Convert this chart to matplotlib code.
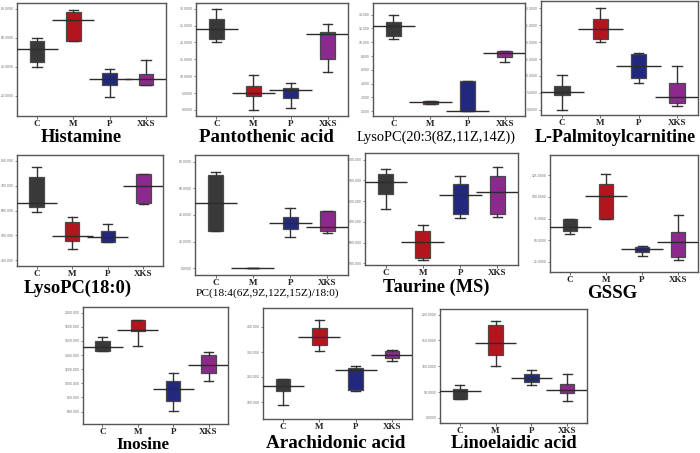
import matplotlib
matplotlib.use('Agg')
import matplotlib.pyplot as plt
from matplotlib.ticker import FormatStrFormatter

groups = ['C', 'M', 'P', 'XKS']
colors = ['#393939', '#b3151d', '#22287e', '#8b2a8c']

# per metabolite: whislo, q1, q3, whishi, mean for C, M, P, XKS
histamine = [(39.8, 43.4, 57.7, 59.8, 52.2), (57.7, 57.7, 77.5, 79.3, 72.4),
             (19.5, 27.6, 36.1, 38.4, 31.7), (27.4, 27.4, 35.2, 44.4, 31.7)]
pantothenic = [(20.2, 21.0, 26.9, 30.0, 23.9), (0.0, 4.2, 7.1, 10.4, 5.1),
               (0.5, 3.4, 6.4, 7.9, 5.9), (11.3, 15.0, 23.1, 25.6, 22.6)]
lysopc203 = [(10.46, 10.95, 12.93, 14.0, 12.4), (1.0, 1.0, 1.5, 1.5, 1.4),
             (0.0, 0.0, 4.4, 4.4, 0.0), (7.2, 7.85, 8.67, 8.67, 8.4)]
palmitoyl = [(0.0, 4.2, 7.0, 10.3, 5.1), (20.1, 21.0, 26.8, 30.0, 23.9),
             (7.8, 9.5, 16.4, 16.7, 12.9), (1.1, 1.9, 7.8, 13.0, 3.8)]
lysopc180 = [(596, 616, 737, 774, 629), (444, 479, 553, 576, 498),
             (474, 474, 517, 546, 495), (627, 629, 748, 748, 701)]
pc184 = [(28.0, 28.0, 70.0, 72.5, 48.75), (0, 0, 0, 0, 0),
         (23.25, 29.5, 38.25, 45.5, 33.75), (26.25, 28.25, 43.25, 43.25, 31.25)]
taurine = [(761, 834, 932, 955, 892), (516, 527, 658, 687, 602),
           (718, 737, 884, 923, 831), (723, 737, 919, 963, 844)]
gssg = [(57.7, 60.8, 74.6, 74.6, 65.4), (75.0, 75.0, 114.6, 125.8, 100.8),
        (32.3, 36.5, 42.3, 43.0, 40.0), (26.9, 30.8, 59.6, 78.5, 47.7)]
inosine = [(1459, 1459, 1600, 1656, 1520), (1529, 1736, 1892, 1892, 1750),
           (602, 744, 1026, 1148, 913), (1026, 1148, 1402, 1440, 1261)]
arachidonic = [(89, 143, 193, 193, 165), (305, 329, 396, 429, 359),
               (143, 149, 236, 243, 229), (265, 276, 303, 307, 289)]
linoelaidic = [(37.0, 37.0, 56.7, 64.5, 52.0), (100, 122, 180.5, 187, 144.6),
               (64.5, 70.3, 85.3, 92.5, 78.2), (32.6, 48.9, 66.4, 85.3, 53.4)]

# name, data, yticks, ylim, tick format, axes box in px (l, t, r, b), title x/y px, title size, bold
panels = [
    ('Histamine', histamine, [20, 40, 60, 80], (6.2, 83.9), '%.4f', (17, 3, 166, 116), (81, 137), 13.2, True),
    ('Pantothenic acid', pantothenic, [0, 5, 10, 15, 20, 25, 30], (-1.8, 31.7), '%.4f', (196, 3, 348, 116), (266, 137), 13.6, True),
    ('LysoPC(20:3(8Z,11Z,14Z))', lysopc203, [0, 2, 4, 6, 8, 10, 12, 14], (-0.7, 15.7), '%.3f', (373, 3, 525, 116), (436, 137), 10.4, False),
    ('L-Palmitoylcarnitine', palmitoyl, [0, 5, 10, 15, 20, 25, 30], (-1.6, 32.2), '%.4f', (541, 1, 698, 115), (615, 137), 13.0, True),
    ('LysoPC(18:0)', lysopc180, [400, 500, 600, 700, 800], (377, 824), '%.3f', (17, 155, 163, 266), (78, 288), 13.3, True),
    ('PC(18:4(6Z,9Z,12Z,15Z)/18:0)', pc184, [0, 20, 40, 60, 80], (-5, 85), '%.4f', (195, 155, 348, 275), (267, 293), 8.2, False),
    ('Taurine (MS)', taurine, [500, 600, 700, 800, 900, 1000], (492, 1032), '%.3f', (365, 153, 518, 265), (436, 287), 13.2, True),
    ('GSSG', gssg, [25, 50, 75, 100, 125], (13.5, 148), '%.4f', (550, 155, 698, 272), (612, 294), 13.6, True),
    ('Inosine', inosine, [600, 800, 1000, 1200, 1400, 1600, 1800, 2000], (423, 2080), '%.3f', (83, 307, 228, 424), (143, 445), 12.3, True),
    ('Arachidonic acid', arachidonic, [100, 200, 300, 400], (32, 476), '%.3f', (263, 308, 412, 419), (336, 443), 13.8, True),
    ('Linoelaidic acid', linoelaidic, [0, 50, 100, 150, 200], (-10, 211), '%.4f', (440, 309, 587, 423), (514, 443), 13.2, True),
]

W, H = 700, 453
fig = plt.figure(figsize=(W / 100, H / 100), dpi=100)
serif = ['Liberation Serif', 'DejaVu Serif']

for name, data, yt, yl, fmt, (l, t, r, b), (tx, ty), tsize, bold in panels:
    ax = fig.add_axes([l / W, 1 - b / H, (r - l) / W, (b - t) / H])
    stats = []
    for g, (lo, q1, q3, hi, mean) in zip(groups, data):
        stats.append({'label': g, 'whislo': lo, 'q1': q1, 'med': mean,
                      'q3': q3, 'whishi': hi, 'fliers': []})
    res = ax.bxp(stats, positions=[1, 2, 3, 4], widths=0.4, patch_artist=True,
                 showfliers=False, capwidths=0.25,
                 boxprops=dict(linewidth=0.9, edgecolor='#4a4a4a'),
                 whiskerprops=dict(color='#333333', linewidth=1.0),
                 capprops=dict(color='#333333', linewidth=1.0),
                 medianprops=dict(linewidth=0))
    for patch, c in zip(res['boxes'], colors):
        patch.set_facecolor(c)
    for i, (lo, q1, q3, hi, mean) in enumerate(data):
        ax.hlines(mean, i + 1 - 0.58, i + 1 + 0.58, color='#2b2b2b', linewidth=1.0, zorder=5)
    ax.set_xlim(0.45, 4.55)
    ax.set_ylim(*yl)
    ax.set_yticks(yt)
    ax.yaxis.set_major_formatter(FormatStrFormatter(fmt))
    ax.tick_params(axis='y', labelsize=2.2, length=1.5, width=0.5, pad=1,
                   colors='#555555', labelcolor='#666666')
    ax.tick_params(axis='x', length=2, width=0.6, pad=1.2, colors='#555555')
    ax.set_xticks([1, 2, 3, 4])
    ax.set_xticklabels(groups, family=serif, fontweight='bold', fontsize=6.5, color='#222222')
    for s in ax.spines.values():
        s.set_color('#555555')
        s.set_linewidth(1.0)
    fig.text(tx / W, 1 - ty / H, name, ha='center', va='center',
             family=serif, fontweight='bold' if bold else 'normal',
             fontsize=tsize, color='black')

fig.savefig('out.png', dpi=100)
